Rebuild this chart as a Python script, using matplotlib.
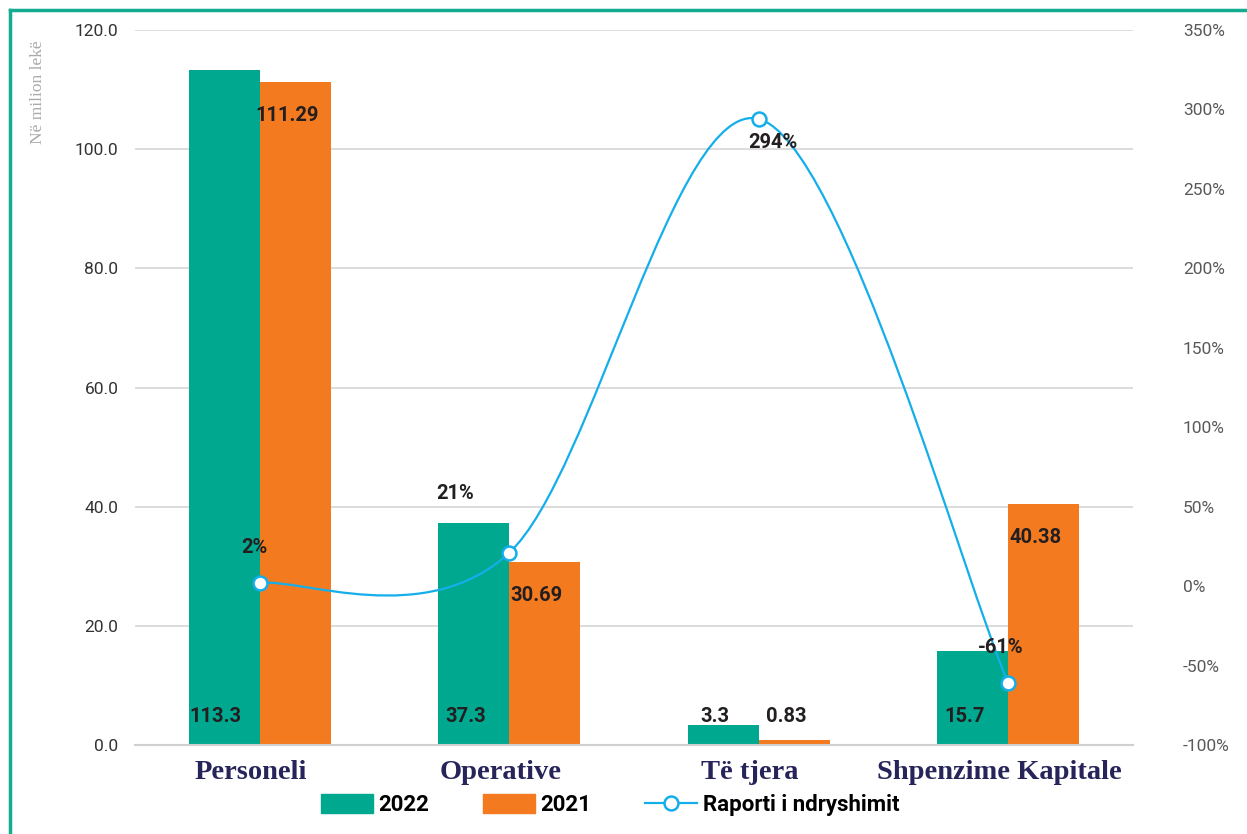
import matplotlib
matplotlib.use("Agg")
import matplotlib.pyplot as plt
import numpy as np
from matplotlib.path import Path
from matplotlib.patches import PathPatch, Rectangle
from matplotlib.lines import Line2D
from matplotlib.transforms import ScaledTranslation
from matplotlib import font_manager

categories = ["Personeli", "Operative", "Të tjera", "Shpenzime Kapitale"]
values_2022 = [113.3, 37.3, 3.3, 15.7]
values_2021 = [111.29, 30.69, 0.83, 40.38]
ratio = [2, 21, 294, -61]
ratio_labels = ["2%", "21%", "294%", "-61%"]
left_ticks = [0, 20, 40, 60, 80, 100, 120]
right_ticks = [-100, -50, 0, 50, 100, 150, 200, 250, 300, 350]
series_names = ["2022", "2021", "Raporti i ndryshimit"]

TEAL = "#00A88F"
ORANGE = "#F47A20"
BLUE = "#14AEEA"
NAVY = "#272459"
GRAY = "#595959"

avail = {f.name for f in font_manager.fontManager.ttflist}
cond = "Liberation Sans Narrow" if "Liberation Sans Narrow" in avail else "Roboto"

fig = plt.figure(figsize=(12.47, 8.34), dpi=100)
ax = fig.add_axes([135/1247, 1-745/834, 998/1247, 715/834])
ax2 = ax.twinx()

x = np.arange(len(categories))
w = 0.285
ax.bar(x - w/2, values_2022, w, color=TEAL, zorder=2)
ax.bar(x + w/2, values_2021, w, color=ORANGE, zorder=2)
ax.set_xlim(-0.5, 3.5)
ax.set_ylim(0, 120)
ax.set_yticks(left_ticks)
ax.set_yticklabels([f"{v:.1f}" for v in left_ticks], fontfamily=cond, fontsize=12.5, color="#333333")
ax.grid(axis="y", color="#d9d9d9", lw=1.3, zorder=0)
ax.set_axisbelow(True)
for s in ["top", "right", "left"]:
    ax.spines[s].set_visible(False)
ax.spines["bottom"].set_color("#d0d0d0")
ax.spines["bottom"].set_linewidth(1.5)
ax.tick_params(axis="both", length=0)
ax.tick_params(axis="y", pad=12)
ax.set_xticks(x)
ax.set_xticklabels(categories, fontfamily="Liberation Serif", fontweight="bold", fontsize=20.5, color=NAVY)
ax.tick_params(axis="x", pad=11)
shift = ScaledTranslation(-9/100, 0, fig.dpi_scale_trans)
for lbl in ax.get_xticklabels():
    lbl.set_transform(lbl.get_transform() + shift)

ax2.set_ylim(-100, 350)
ax2.set_yticks(right_ticks)
ax2.set_yticklabels([f"{v}%" for v in right_ticks], fontfamily=cond, fontsize=12.5, color=GRAY)
ax2.tick_params(axis="y", length=0, pad=36)
for s in ax2.spines.values():
    s.set_visible(False)

# smoothed line (Catmull-Rom style bezier through data points)
pts = np.column_stack([x, ratio]).astype(float)
n = len(pts)
verts = [pts[0]]
codes = [Path.MOVETO]
for i in range(n - 1):
    p0 = pts[i - 1] if i > 0 else pts[i]
    p1, p2 = pts[i], pts[i + 1]
    p3 = pts[i + 2] if i + 2 < n else pts[i + 1]
    c1 = p1 + (p2 - p0) / 6
    c2 = p2 - (p3 - p1) / 6
    verts += [c1, c2, p2]
    codes += [Path.CURVE4] * 3
ax2.add_patch(PathPatch(Path(verts, codes), fill=False, edgecolor=BLUE, lw=1.6, zorder=3))
ax2.plot(x, ratio, ls="none", marker="o", ms=10, mfc="white", mec=BLUE, mew=1.8, zorder=4)

lab_font = dict(fontfamily=cond, fontweight="bold", fontsize=14.5, color="#231f20", zorder=6)
for i in range(len(categories)):
    ax2.annotate(f"{values_2022[i]}", (x[i] - w/2, 4.85), xycoords=ax.transData, xytext=(-6, 0),
                 textcoords="offset points", ha="center", va="center", **lab_font)
    yy = max(values_2021[i] - 5.6, 4.85)
    ax2.annotate(f"{values_2021[i]}", (x[i] + w/2, yy), xycoords=ax.transData, xytext=(-6, 0),
                 textcoords="offset points", ha="center", va="center", **lab_font)

offsets = [(-5, 35), (-54, 59), (14, -24), (-8, 36)]
for i in range(len(categories)):
    dx, dy = offsets[i]
    ax2.annotate(ratio_labels[i], (x[i], ratio[i]), xytext=(dx * 0.72, dy * 0.72), textcoords="offset points",
                 ha="center", va="center", **lab_font)

fig.text(38/1247, 1-92/834, "Në milion lekë", rotation=90, ha="center", va="center",
         fontfamily="Liberation Serif", fontsize=12.5, color="#aaaaaa")

handles = [Rectangle((0, 0), 1, 1, color=TEAL), Rectangle((0, 0), 1, 1, color=ORANGE),
           Line2D([0], [0], color=BLUE, lw=1.6, marker="o", ms=10, mfc="white", mec=BLUE, mew=1.8)]
fig.legend(handles, series_names, loc="center", bbox_to_anchor=(610/1247, 1-805/834), ncol=3,
           frameon=False, prop=dict(family=cond, weight="bold", size=16), handlelength=2.35,
           handleheight=0.9, columnspacing=2.4, handletextpad=0.25)

fig.add_artist(Line2D([10/1247, 10/1247], [0, 1-10/834], transform=fig.transFigure, color="#13AC90", lw=2.5))
fig.add_artist(Line2D([10/1247, 1], [1-10/834, 1-10/834], transform=fig.transFigure, color="#13AC90", lw=2.5))

fig.savefig("out.png", dpi=100)
